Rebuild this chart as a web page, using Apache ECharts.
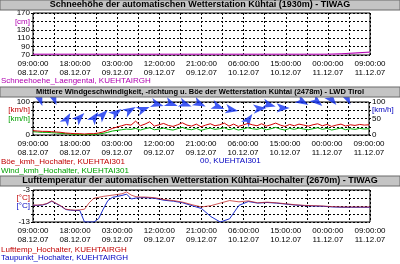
<!DOCTYPE html>
<html><head><meta charset="utf-8">
<script src="https://cdn.jsdelivr.net/npm/echarts@6/dist/echarts.min.js"></script>
<style>html,body{margin:0;padding:0;background:#fff}#c{width:400px;height:264px}</style>
</head><body><div id="c"></div>
<script>
// ---- data ----
const timeLabels = ['09:00:00\n08.12.07','18:00:00\n08.12.07','03:00:00\n09.12.07','12:00:00\n09.12.07','21:00:00\n09.12.07','06:00:00\n10.12.07','15:00:00\n10.12.07','00:00:00\n11.12.07','09:00:00\n11.12.07'];
const panelTitles = [
  'Schneehöhe der automatischen Wetterstation Kühtai (1930m) - TIWAG',
  'Mittlere Windgeschwindigkeit, -richtung u. Böe der Wetterstation Kühtai (2478m) - LWD Tirol',
  'Lufttemperatur der automatischen Wetterstation Kühtai-Hochalter (2670m) - TIWAG'
];
const legendSnow = ['Schneehoehe_Laengental, KUEHTAIRGH'];
const legendWind = ['Böe_kmh_Hochalter, KUEHTAI301','Wind_kmh_Hochalter, KUEHTAI301','00, KUEHTAI301'];
const legendTemp = ['Lufttemp_Hochalter, KUEHTAIRGH','Taupunkt_Hochalter, KUEHTAIRGH'];
const snowTicks = {70:'70',90:'90',110:'110',130:'130',150:'[cm]',170:'170'};
const windTicksL = {0:'0',25:'',50:'[km/h]',75:'[km/h]',100:'100'};
const windTicksR = {0:'0',25:'',50:'50',75:'[km/h]',100:'100'};
const tempTicks = ['-13','','[°C]','[°C]','-3'];

const snowHours = [0,3,6,9,12,15,18,21,24,27,30,33,36,39,42,45,48,51,54,57,60,63,66,69,72];
const snowDepth = [72,72,72,72,72,72,72,72,72,72,72,72,72,72,72,72,72,72,72,72,72,72,73,75,77];
const snowRaw   = [70.5,70.5,70.5,70.5,70.5,70.5,70.5,70.5,70.5,70.5,70.5,70.5,70.5,70.5,70.5,70.5,70.5,70.5,70.5,70.5,70.5,71,72,74,76];

const windHours = Array.from({length:73},(_,i)=>i);
const windMean = [10,9,8,8,7,6,5,4,3,2, 2,1,2,2,3,5,8,12,14,16, 18,17,20,15,19,22,16,18,21,17,
  15,19,23,18,16,20,14,18,21,17, 19,22,16,20,15,18,22,19,17,21, 16,19,23,18,15,20,17,21,18,16,
  19,22,17,20,15,18,21,16,19,17, 20,18,19];
const windGust = [13,12,11,11,10,9,8,6,5,4, 4,3,4,4,6,9,14,20,24,28, 32,30,42,28,33,40,27,31,35,29,
  26,31,37,30,27,33,25,30,34,28, 31,36,27,33,26,30,35,31,28,34, 27,31,36,30,26,32,28,33,30,27,
  31,34,28,32,26,30,33,27,31,29, 32,30,31];
const arrowHours = [2,5,8,11,14,16,19,22,25,28,31,34,37,41,44,47,50,52,55,59,62,65,68];
const arrowLevel = [88,91,67,67,70,76,79,85,85,88,88,86,86,79,73,64,82,86,82,91,88,91,92];
const arrowDir   = [200,200,-30,-45,-35,-45,-55,-60,-70,-105,-110,-110,-115,-110,-100,-35,-85,-105,-90,-120,-130,-140,-155];

const tempHours = [0,1,2,3,4,5,6,7,8,9,10,11,12,13,14,15,16,17,18,19,20,21,22,23,24,26,28,30,32,34,36,38,40,42,44,46,48,50,52,54,56,58,60,62,64,66,68,70,72];
const airTemp = [-7.7,-7.7,-7.6,-7.2,-6.4,-7.2,-8.0,-9.0,-9.2,-9.3,-9.2,-9.0,-7.0,-5.6,-5.3,-5.0,-4.8,-4.6,-4.4,-4.2,-3.6,-4.6,-5.1,-5.2,-5.2,-5.4,-6.0,-6.3,-6.8,-7.6,-8.3,-7.9,-7.1,-6.3,-6.7,-6.4,-7.0,-6.8,-7.0,-7.3,-7.6,-7.8,-7.9,-8.0,-8.2,-8.3,-8.3,-8.3,-8.3];
const dewPoint = [-7.8,-7.8,-7.7,-7.3,-6.5,-7.3,-8.1,-9.1,-9.3,-9.4,-9.4,-13.0,-13.0,-13.0,-12.0,-9.0,-6.3,-5.3,-5.0,-4.7,-4.3,-5.8,-5.5,-5.4,-5.4,-5.6,-6.2,-6.5,-7.0,-7.9,-8.8,-11.3,-13.0,-12.0,-7.8,-6.6,-7.1,-6.9,-7.1,-7.4,-7.7,-7.9,-8.0,-8.1,-8.3,-8.4,-8.4,-8.4,-8.4];

// ---- chart ----
const F = 'Liberation Sans';
const zip = (a,b) => a.map((v,i)=>[v,b[i]]);
const dash = {show:true, lineStyle:{color:'#000', type:[2,2], width:1}};
function xAx(gi){
  return {type:'value', gridIndex:gi, min:0, max:72, interval:4.5,
    axisLine:{show:false}, axisTick:{show:false}, splitLine:dash,
    axisLabel:{fontFamily:F, fontSize:8, color:'#000', lineHeight:9, margin:4,
      formatter: v => (v % 9 === 0) ? timeLabels[v/9] : ''}};
}
const rich = {
  m:{color:'#b000b0', fontFamily:F, fontSize:8},
  r:{color:'#c00000', fontFamily:F, fontSize:8},
  g:{color:'#00a000', fontFamily:F, fontSize:8},
  b:{color:'#0000c0', fontFamily:F, fontSize:8}
};
function yAx(gi, min, max, interval, fmt, pos){
  return {type:'value', gridIndex:gi, min, max, interval, position:pos||'left',
    axisLine:{show:false}, axisTick:{show:true, length:2, lineStyle:{color:'#000'}},
    splitLine: pos==='right' ? {show:false} : dash,
    axisLabel:{fontFamily:F, fontSize:8, color:'#000', margin:3, formatter:fmt, rich}};
}
const titleSizes = [9, 7.5, 9];
const titleGraphics = [];
[0, 87, 176].forEach((y,i)=>{
  titleGraphics.push({type:'rect', z:100, shape:{x:0,y:y,width:400,height:10}, style:{fill:'#c4c4c4', stroke:'#6a6a6a', lineWidth:1}, silent:true});
  titleGraphics.push({type:'text', z:101, x:200, y:y+5, style:{text:panelTitles[i], fill:'#000', font:'bold '+titleSizes[i]+'px "Liberation Sans"', align:'center', verticalAlign:'middle'}});
});
const legendGraphics = [
  {type:'text', x:1, y:81, style:{text:legendSnow[0], fill:'#b000b0', font:'8px "Liberation Sans"', verticalAlign:'middle'}},
  {type:'text', x:1, y:162, style:{text:legendWind[0], fill:'#c00000', font:'8px "Liberation Sans"', verticalAlign:'middle'}},
  {type:'text', x:1, y:171, style:{text:legendWind[1], fill:'#00a000', font:'8px "Liberation Sans"', verticalAlign:'middle'}},
  {type:'text', x:200, y:161, style:{text:legendWind[2], fill:'#0000c0', font:'8px "Liberation Sans"', verticalAlign:'middle'}},
  {type:'text', x:1, y:250, style:{text:legendTemp[0], fill:'#c00000', font:'8px "Liberation Sans"', verticalAlign:'middle'}},
  {type:'text', x:1, y:258, style:{text:legendTemp[1], fill:'#0000c0', font:'8px "Liberation Sans"', verticalAlign:'middle'}}
];

const option = {
  animation:false,
  backgroundColor:'#fff',
  grid:[
    {left:33, right:30, top:13, height:42, show:true, borderColor:'#000', borderWidth:1, backgroundColor:'#fff'},
    {left:33, right:31, top:102, height:33, show:true, borderColor:'#000', borderWidth:1, backgroundColor:'#fff'},
    {left:33, right:30, top:190, height:32, show:true, borderColor:'#000', borderWidth:1, backgroundColor:'#fff'}
  ],
  xAxis:[xAx(0), xAx(1), xAx(2)],
  yAxis:[
    yAx(0, 70, 170, 20, v => { const s = snowTicks[v]; return s === '[cm]' ? '{m|[cm]}' : (s||''); }),
    yAx(1, 0, 100, 25, v => v===75 ? '{r|[km/h]}' : v===50 ? '{g|[km/h]}' : (windTicksL[v]||'')),
    yAx(1, 0, 100, 25, v => v===75 ? '{b|[km/h]}' : (windTicksR[v]||''), 'right'),
    yAx(2, -13, -3, 2.5, v => { const i = Math.round((v+13)/2.5); const s = tempTicks[i]||''; return i===2 ? '{b|'+s+'}' : i===3 ? '{r|'+s+'}' : s; })
  ],
  series:[
    {type:'line', name:'snowRaw', xAxisIndex:0, yAxisIndex:0, data:zip(snowHours, snowRaw), symbol:'none', lineStyle:{color:'#f0a8f0', width:1}},
    {type:'line', name:legendSnow[0], xAxisIndex:0, yAxisIndex:0, data:zip(snowHours, snowDepth), symbol:'none', lineStyle:{color:'#b000b0', width:1}},
    {type:'line', name:legendWind[1], xAxisIndex:1, yAxisIndex:1, data:zip(windHours, windMean), symbol:'none', lineStyle:{color:'#00b000', width:1}},
    {type:'line', name:legendWind[0], xAxisIndex:1, yAxisIndex:1, data:zip(windHours, windGust), symbol:'none', lineStyle:{color:'#d00000', width:1}},
    {type:'scatter', name:legendWind[2], xAxisIndex:1, yAxisIndex:1,
      data: arrowHours.map((h,i)=>[h, arrowLevel[i], arrowDir[i]]),
      symbol:'arrow', symbolSize:[7,13], symbolRotate: v => v[2],
      itemStyle:{color:'#1030f0'}},
    {type:'line', name:legendTemp[1], xAxisIndex:2, yAxisIndex:3, data:zip(tempHours, dewPoint), symbol:'none', lineStyle:{color:'#2030d0', width:1}},
    {type:'line', name:legendTemp[0], xAxisIndex:2, yAxisIndex:3, data:zip(tempHours, airTemp), symbol:'none', lineStyle:{color:'#c02020', width:1, opacity:0.75}}
  ],
  graphic: titleGraphics.concat(legendGraphics)
};
const chart = echarts.init(document.getElementById('c'));
chart.setOption(option);
</script></body></html>
